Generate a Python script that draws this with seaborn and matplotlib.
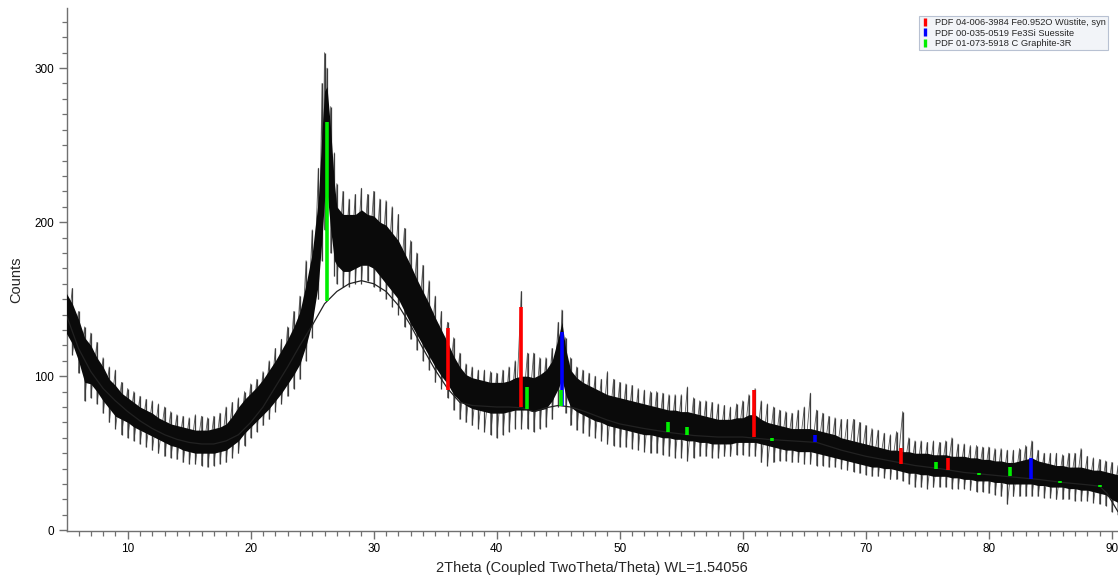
import numpy as np
import matplotlib
matplotlib.use("Agg")
import matplotlib.pyplot as plt
from matplotlib.lines import Line2D
from matplotlib.ticker import MultipleLocator
import seaborn as sns

# ---------------- data ----------------
two_theta = [5.0, 5.5, 6.0, 6.5, 7.0, 7.5, 8.0, 8.5, 9.0, 9.5, 10.0, 10.5, 11.0, 11.5,
             12.0, 12.5, 13.0, 13.5, 14.0, 14.5, 15.0, 15.5, 16.0, 16.5, 17.0, 17.5,
             18.0, 18.5, 19.0, 19.5, 20.0, 20.5, 21.0, 21.5, 22.0, 22.5, 23.0, 23.5,
             24.0, 24.5, 25.0, 25.5, 25.8, 26.0, 26.2, 26.5, 26.8, 27.0, 27.5, 28.0,
             28.5, 29.0, 29.5, 30.0, 30.5, 31.0, 31.5, 32.0, 32.5, 33.0, 33.5, 34.0,
             34.5, 35.0, 35.5, 36.0, 36.5, 37.0, 37.5, 38.0, 38.5, 39.0, 39.5, 40.0,
             40.5, 41.0, 41.5, 42.0, 42.5, 43.0, 43.5, 44.0, 44.5, 45.0, 45.3, 45.6,
             46.0, 46.5, 47.0, 47.5, 48.0, 48.5, 49.0, 49.5, 50.0, 50.5, 51.0, 51.5,
             52.0, 52.5, 53.0, 53.5, 54.0, 54.5, 55.0, 55.5, 56.0, 56.5, 57.0, 57.5,
             58.0, 58.5, 59.0, 59.5, 60.0, 60.5, 61.0, 61.5, 62.0, 62.5, 63.0, 63.5,
             64.0, 64.5, 65.0, 65.5, 66.0, 66.5, 67.0, 67.5, 68.0, 68.5, 69.0, 69.5,
             70.0, 70.5, 71.0, 71.5, 72.0, 72.5, 73.0, 73.5, 74.0, 74.5, 75.0, 75.5,
             76.0, 76.5, 77.0, 77.5, 78.0, 78.5, 79.0, 79.5, 80.0, 80.5, 81.0, 81.5,
             82.0, 82.5, 83.0, 83.5, 84.0, 84.5, 85.0, 85.5, 86.0, 86.5, 87.0, 87.5,
             88.0, 88.5, 89.0, 89.5, 90.0, 90.5]

# dense part of the noisy scan (lower / upper edge)
counts_core_lo = [128, 121, 110, 96, 95, 90, 84, 79, 74, 72, 70, 67, 65, 63,
                  61, 59, 57, 55, 54, 52, 51, 50, 50, 50, 50, 51,
                  52, 55, 58, 63, 67, 71, 75, 79, 84, 89, 95, 101,
                  108, 120, 135, 160, 190, 215, 220, 195, 175, 172, 168, 168,
                  170, 172, 172, 170, 165, 160, 155, 150, 142, 134, 127, 120,
                  113, 106, 100, 95, 88, 84, 81, 79, 78, 77, 76, 76,
                  76, 77, 78, 78, 78, 77, 78, 79, 84, 92, 98, 88,
                  80, 77, 75, 73, 71, 70, 68, 67, 66, 65, 64, 63,
                  62, 62, 61, 60, 60, 59, 59, 58, 58, 57, 57, 56,
                  56, 56, 56, 57, 57, 57, 57, 56, 55, 54, 53, 52,
                  52, 51, 51, 51, 50, 49, 48, 47, 46, 45, 44, 43,
                  42, 41, 41, 40, 40, 39, 38, 37, 37, 36, 36, 35,
                  35, 35, 34, 34, 33, 33, 32, 32, 32, 31, 31, 30,
                  30, 30, 30, 30, 29, 29, 28, 28, 28, 27, 27, 26,
                  26, 25, 24, 23, 20, 18]
counts_core_hi = [154, 147, 137, 125, 120, 112, 106, 98, 94, 89, 86, 83, 80, 78,
                  76, 73, 71, 69, 68, 67, 66, 65, 65, 65, 66, 67,
                  69, 74, 80, 85, 89, 93, 98, 104, 110, 117, 124, 132,
                  142, 160, 180, 215, 260, 285, 288, 260, 225, 210, 205, 205,
                  205, 208, 205, 204, 200, 198, 193, 188, 180, 172, 163, 155,
                  147, 138, 130, 122, 113, 106, 101, 99, 98, 97, 96, 96,
                  96, 97, 99, 100, 100, 99, 101, 104, 110, 125, 135, 118,
                  104, 99, 96, 94, 92, 90, 88, 87, 86, 85, 84, 83,
                  82, 81, 80, 79, 78, 78, 77, 77, 76, 75, 74, 73,
                  72, 72, 72, 73, 73, 75, 75, 72, 70, 69, 68, 67,
                  66, 66, 66, 66, 65, 64, 63, 62, 60, 59, 58, 57,
                  56, 55, 54, 53, 52, 52, 51, 51, 50, 50, 50, 49,
                  49, 49, 48, 48, 48, 47, 47, 46, 46, 45, 45, 44,
                  44, 45, 46, 47, 45, 44, 43, 42, 42, 41, 41, 41,
                  40, 39, 39, 38, 37, 36]
# spike extremes of the scan (lower / upper)
counts_spike_lo = [120, 114, 102, 84, 86, 82, 76, 70, 66, 62, 60, 58, 56, 54,
                   52, 50, 48, 47, 46, 44, 43, 43, 42, 41, 42, 43,
                   44, 47, 50, 55, 60, 64, 68, 72, 77, 82, 87, 92,
                   98, 110, 125, 150, 175, 195, 200, 180, 165, 160, 158, 158,
                   160, 160, 162, 158, 155, 150, 145, 140, 132, 124, 117, 110,
                   104, 96, 92, 86, 78, 72, 70, 68, 66, 64, 62, 60,
                   62, 64, 66, 66, 66, 64, 66, 67, 72, 80, 85, 76,
                   68, 65, 63, 61, 60, 58, 56, 55, 54, 54, 53, 52,
                   51, 50, 50, 49, 48, 47, 47, 45, 47, 48, 48, 47,
                   47, 48, 48, 49, 49, 48, 48, 44, 42, 44, 45, 45,
                   44, 44, 43, 43, 42, 42, 41, 41, 40, 39, 38, 37,
                   36, 35, 35, 34, 33, 33, 32, 30, 28, 28, 27, 28,
                   28, 28, 27, 27, 27, 26, 25, 25, 24, 23, 22, 17,
                   22, 22, 22, 22, 22, 21, 21, 20, 20, 20, 19, 19,
                   19, 18, 17, 16, 12, 10]
counts_spike_hi = [160, 157, 142, 132, 128, 122, 112, 106, 104, 96, 92, 90, 87, 85,
                   84, 82, 80, 77, 75, 74, 73, 75, 74, 73, 74, 76,
                   80, 83, 86, 90, 95, 98, 103, 110, 118, 124, 132, 142,
                   152, 175, 195, 235, 290, 310, 300, 275, 245, 225, 220, 215,
                   218, 222, 218, 220, 215, 214, 210, 205, 196, 188, 180, 172,
                   162, 152, 142, 135, 125, 115, 108, 106, 104, 104, 103, 102,
                   104, 106, 110, 155, 115, 115, 112, 112, 118, 135, 143, 125,
                   112, 106, 104, 102, 100, 98, 103, 98, 96, 95, 94, 92,
                   91, 90, 90, 89, 88, 88, 88, 93, 86, 84, 84, 83,
                   82, 81, 80, 82, 84, 88, 92, 84, 82, 80, 78, 77,
                   76, 78, 80, 89, 78, 76, 74, 73, 72, 72, 72, 70,
                   68, 66, 65, 63, 62, 64, 77, 60, 58, 58, 57, 58,
                   57, 58, 60, 56, 56, 55, 55, 54, 54, 53, 53, 52,
                   52, 53, 55, 58, 52, 50, 50, 50, 49, 50, 50, 53,
                   48, 47, 46, 45, 44, 42]

# fitted background curve
bg_theta = [5, 6, 7, 8, 9, 10, 11, 12, 13, 14, 15, 16, 17, 18, 19, 20, 21, 22, 23,
            24, 25, 26, 27, 28, 29, 30, 31, 32, 33, 34, 35, 36, 37, 38, 39, 40,
            41, 42, 43, 44, 45, 46, 47, 48, 49, 50, 52, 54, 56, 58, 60, 62, 64,
            66, 68, 70, 72, 74, 76, 78, 80, 82, 84, 86, 88, 89, 89.6, 90.5]
bg_counts = [140, 118, 103, 92, 84, 77, 71, 66, 62, 59, 57, 56, 56, 58, 62, 70, 80,
             93, 106, 120, 133, 147, 155, 160, 162, 160, 155, 146, 133, 118, 104,
             92, 83, 81, 80.5, 80, 80, 79.5, 77, 79.5, 81, 80, 77.5, 74.5, 71.5,
             69, 66, 63.5, 61.5, 60.5, 60.5, 59, 58, 57, 52, 48, 45, 42, 40, 37.5,
             36, 34.5, 33, 31, 29.5, 28.6, 24, 12]

# reference pattern sticks (position, base, top)
wustite_pos = [36.05, 41.95, 60.9, 72.85, 76.7]
wustite_base = [91, 80, 60.6, 43.3, 39.4]
wustite_top = [131, 145, 91, 53.7, 47]

suessite_pos = [45.27, 65.9, 83.45]
suessite_base = [80.5, 57.3, 33]
suessite_top = [128.6, 61.7, 47]

graphite_pos = [26.2, 42.45, 45.2, 53.9, 55.5, 62.4, 75.7, 79.2, 81.7, 85.8, 89.0]
graphite_base = [149, 79, 80.5, 64, 62, 58, 40, 35.8, 35, 30.6, 28]
graphite_top = [265, 93, 91, 70, 67, 59.6, 44.4, 37.2, 41, 32.2, 29.4]

legend_labels = ["PDF 04-006-3984 Fe0.952O Wüstite, syn",
                 "PDF 00-035-0519 Fe3Si Suessite",
                 "PDF 01-073-5918 C Graphite-3R"]
legend_colors = ["#ff0000", "#0000ff", "#00ee00"]

# ---------------- drawing ----------------
sns.set_theme(style="ticks")
plt.rcParams["font.family"] = ["Liberation Sans", "DejaVu Sans"]

fig = plt.figure(figsize=(11.18, 5.88), dpi=100)
ax = fig.add_axes([66.7 / 1118, 1 - 531 / 588, 1 - 66.7 / 1118, (531 - 8) / 588])

x = np.asarray(two_theta)
# min/max path of the noisy scan
px = np.repeat(x, 2)
py = np.empty(2 * len(x))
py[0::2] = counts_spike_hi
py[1::2] = counts_spike_lo
ax.plot(px, py, color="#5a5a5a", lw=0.6, zorder=2)
ax.vlines(x, counts_spike_lo, counts_spike_hi, color="#3c3c3c", lw=0.9, zorder=2)
ax.fill_between(x, counts_core_lo, counts_core_hi, color="#0a0a0a", lw=0, zorder=3)

sns.lineplot(x=bg_theta, y=bg_counts, ax=ax, color="#222222", lw=0.9, zorder=4)

ax.vlines(suessite_pos, suessite_base, suessite_top, color=legend_colors[1], lw=2.6, zorder=5)
ax.vlines(wustite_pos, wustite_base, wustite_top, color=legend_colors[0], lw=2.6, zorder=5)
ax.vlines(graphite_pos, graphite_base, graphite_top, color=legend_colors[2], lw=2.6, zorder=6)

ax.set_xlim(5.04, 90.5)
ax.set_ylim(-0.5, 339)
ax.xaxis.set_major_locator(MultipleLocator(10))
ax.xaxis.set_minor_locator(MultipleLocator(1))
ax.yaxis.set_major_locator(MultipleLocator(100))
ax.yaxis.set_minor_locator(MultipleLocator(10))
ax.tick_params(which="major", length=6, width=1.0, color="#707070", labelsize=8.5,
               labelcolor="black", direction="out", pad=3)
ax.tick_params(which="minor", length=3.5, width=0.9, color="#707070", direction="out")
for s in ["top", "right"]:
    ax.spines[s].set_visible(False)
for s in ["left", "bottom"]:
    ax.spines[s].set_color("#707070")
    ax.spines[s].set_linewidth(1.0)

ax.set_xlabel("2Theta (Coupled TwoTheta/Theta) WL=1.54056", fontsize=10.5)
ax.set_ylabel("Counts", fontsize=10.5)
ax.xaxis.set_label_coords(0.5, -0.058)
ax.yaxis.set_label_coords(-0.041, 0.48)

handles = [Line2D([], [], color=c, marker="|", linestyle="none", markersize=6,
                  markeredgewidth=2.4) for c in legend_colors]
leg = fig.legend(handles, legend_labels, loc="upper right",
                 bbox_to_anchor=(1108 / 1118, 1 - 16 / 588), fontsize=6.7,
                 frameon=True, fancybox=False, handlelength=0.8, handletextpad=0.6,
                 borderpad=0.25, labelspacing=0.15, borderaxespad=0)
leg.get_frame().set_facecolor("#eff2f7")
leg.get_frame().set_edgecolor("#a8b4c8")
leg.get_frame().set_linewidth(0.8)

fig.savefig("out.png", dpi=100)
